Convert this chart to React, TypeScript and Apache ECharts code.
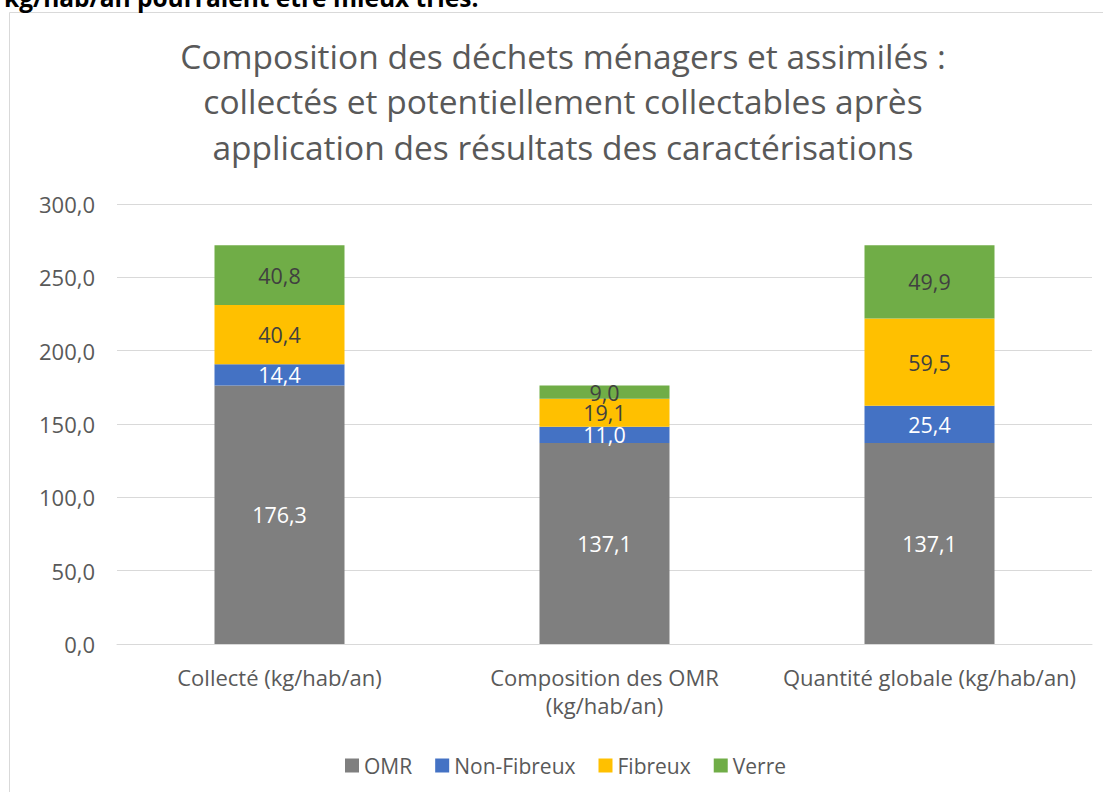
import React, { useEffect, useRef } from "react";
import * as echarts from "echarts";

const categories = [
  "Collecté (kg/hab/an)",
  "Composition des OMR (kg/hab/an)",
  "Quantité globale (kg/hab/an)",
];
const omr = [176.3, 137.1, 137.1];
const nonFibreux = [14.4, 11.0, 25.4];
const fibreux = [40.4, 19.1, 59.5];
const verre = [40.8, 9.0, 49.9];
const titleLines = [
  "Composition des déchets ménagers et assimilés :",
  "collectés et potentiellement collectables après",
  "application des résultats des caractérisations",
];
const topNote = "kg/hab/an pourraient être mieux triés.";

const FONT = "Open Sans";
const fmt = (v: number) => v.toFixed(1).replace(".", ",");

export default function App() {
  const ref = useRef<HTMLDivElement>(null);
  useEffect(() => {
    if (!ref.current) return;
    const chart = echarts.init(ref.current, undefined, { renderer: "svg" });
    const mk = (name: string, data: number[], color: string, labelColor: string) => ({
      name,
      type: "bar",
      stack: "total",
      data,
      barWidth: "40%",
      itemStyle: { color },
      label: {
        show: true,
        position: "inside",
        color: labelColor,
        fontFamily: FONT,
        fontSize: 21.5,
        formatter: (p: any) => fmt(p.value),
      },
    });
    chart.setOption({
      animation: false,
      textStyle: { fontFamily: FONT },
      graphic: [
        {
          type: "rect",
          shape: { x: 9.5, y: 12.5, width: 1200, height: 900 },
          style: { fill: "none", stroke: "#D9D9D9", lineWidth: 1 },
          silent: true,
        },
        {
          type: "text",
          x: 4,
          y: -3,
          style: {
            text: topNote,
            fontFamily: FONT,
            fontSize: 24.5,
            fontWeight: "bold",
            fill: "#000",
            verticalAlign: "middle",
          },
        },
        {
          type: "text",
          x: 563,
          y: 33,
          style: {
            text: titleLines.join("\n"),
            fontFamily: FONT,
            fontSize: 33.5,
            lineHeight: 45.5,
            fill: "#595959",
            align: "center",
            verticalAlign: "top",
          },
        },
      ],
      grid: { left: 117, right: 11, top: 204, bottom: 148, containLabel: false },
      legend: {
        top: 750,
        left: 340,
        itemWidth: 14,
        itemHeight: 14,
        itemGap: 23,
        itemTextGap: 6,
        icon: "rect",
        textStyle: { fontFamily: FONT, fontSize: 21, color: "#595959" },
        data: ["OMR", "Non-Fibreux", "Fibreux", "Verre"],
      },
      xAxis: {
        type: "category",
        data: categories,
        axisLine: { lineStyle: { color: "#D9D9D9" } },
        axisTick: { show: false },
        axisLabel: {
          color: "#595959",
          fontFamily: FONT,
          fontSize: 22,
          lineHeight: 28,
          margin: 19,
          interval: 0,
          formatter: (v: string) => (v.length > 29 ? v.replace(" (", "\n(") : v),
        },
      },
      yAxis: {
        type: "value",
        min: 0,
        max: 300,
        interval: 50,
        axisLine: { show: false },
        axisTick: { show: false },
        splitLine: { lineStyle: { color: "#D9D9D9" } },
        axisLabel: {
          color: "#595959",
          fontFamily: FONT,
          fontSize: 22,
          margin: 22,
          formatter: (v: number) => fmt(v),
        },
      },
      series: [
        mk("OMR", omr, "#7F7F7F", "#FFFFFF"),
        mk("Non-Fibreux", nonFibreux, "#4472C4", "#FFFFFF"),
        mk("Fibreux", fibreux, "#FFC000", "#404040"),
        mk("Verre", verre, "#70AD47", "#404040"),
      ],
    });
    return () => chart.dispose();
  }, []);
  return (
    <div
      ref={ref}
      style={{ position: "fixed", left: 0, top: 0, width: 1103, height: 792, background: "#fff" }}
    />
  );
}
